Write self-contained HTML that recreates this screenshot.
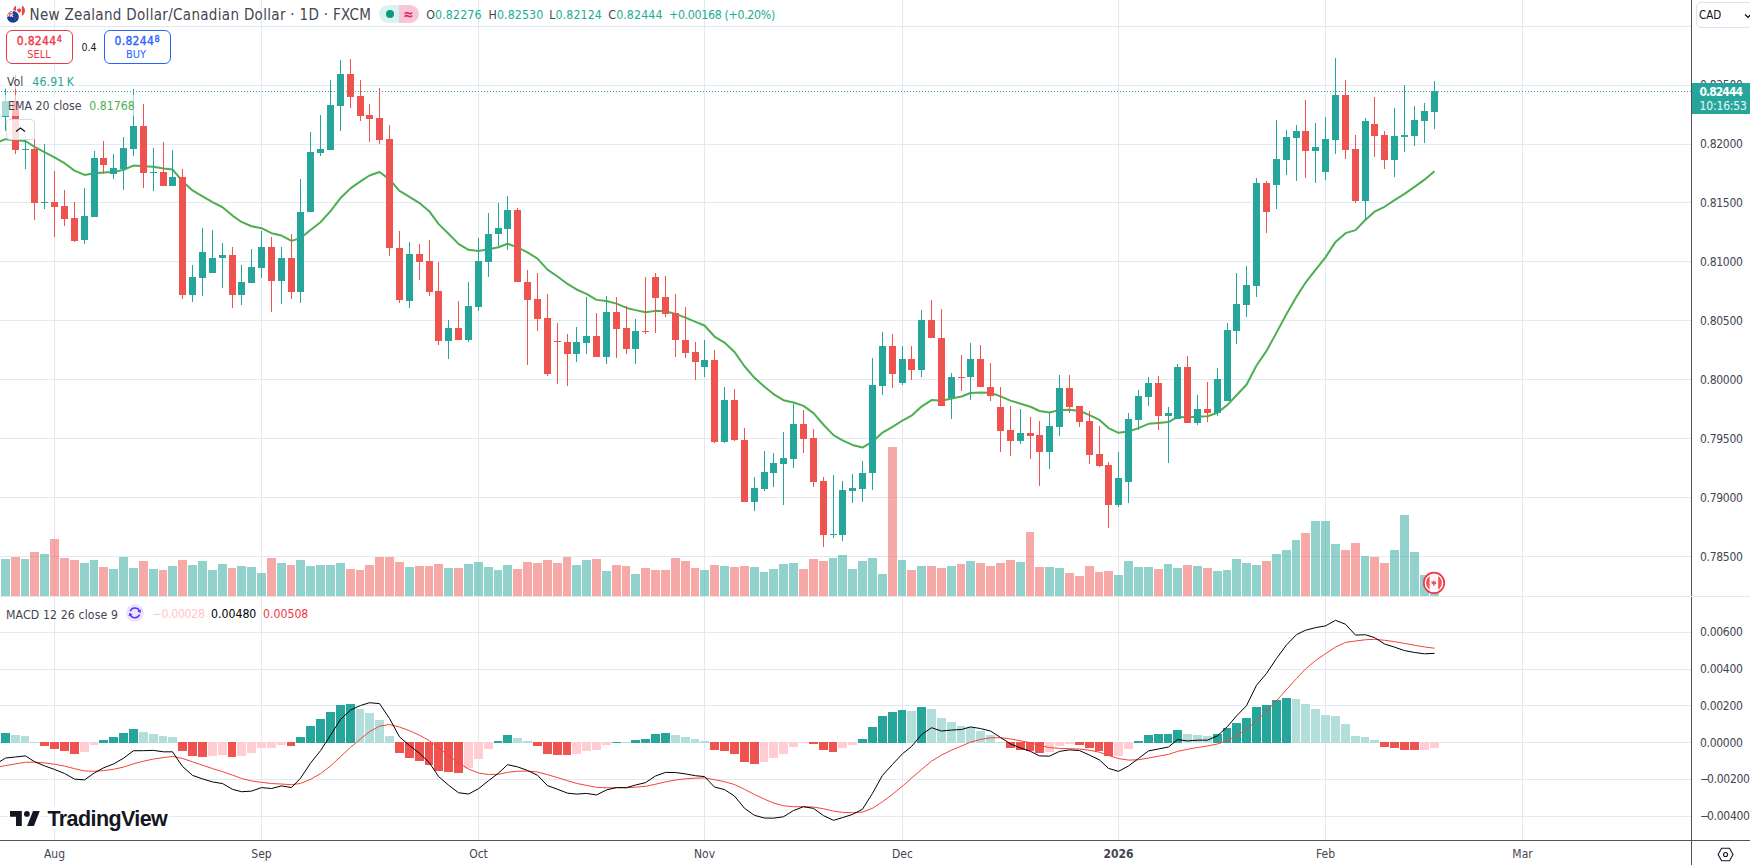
<!DOCTYPE html>
<html><head><meta charset="utf-8"><style>
html,body{margin:0;padding:0;background:#fff;}
body{width:1750px;height:865px;overflow:hidden;position:relative;font-family:'DejaVu Sans Condensed','DejaVu Sans',sans-serif;font-stretch:condensed;color:#131722;}
svg{position:absolute;left:0;top:0;}
.t{position:absolute;white-space:nowrap;line-height:1;}
.ax{position:absolute;left:1700px;font-size:12px;color:#434651;letter-spacing:-0.3px;line-height:12px;}
.tm{position:absolute;top:847.6px;font-size:12px;color:#434651;line-height:12px;}
</style></head><body>
<svg width="1750" height="865" viewBox="0 0 1750 865" shape-rendering="crispEdges">
<rect x="0" y="26" width="1691" height="1" fill="#e0eaf0"/>
<rect x="0" y="85" width="1691" height="1" fill="#e0eaf0"/>
<rect x="0" y="144" width="1691" height="1" fill="#e0eaf0"/>
<rect x="0" y="202" width="1691" height="1" fill="#e0eaf0"/>
<rect x="0" y="261" width="1691" height="1" fill="#e0eaf0"/>
<rect x="0" y="320" width="1691" height="1" fill="#e0eaf0"/>
<rect x="0" y="379" width="1691" height="1" fill="#e0eaf0"/>
<rect x="0" y="438" width="1691" height="1" fill="#e0eaf0"/>
<rect x="0" y="497" width="1691" height="1" fill="#e0eaf0"/>
<rect x="0" y="556" width="1691" height="1" fill="#e0eaf0"/>
<rect x="0" y="632" width="1691" height="1" fill="#e0eaf0"/>
<rect x="0" y="669" width="1691" height="1" fill="#e0eaf0"/>
<rect x="0" y="705" width="1691" height="1" fill="#e0eaf0"/>
<rect x="0" y="742" width="1691" height="1" fill="#e0eaf0"/>
<rect x="0" y="779" width="1691" height="1" fill="#e0eaf0"/>
<rect x="0" y="816" width="1691" height="1" fill="#e0eaf0"/>
<rect x="54" y="0" width="1" height="596" fill="#e0eaf0"/>
<rect x="54" y="597" width="1" height="243" fill="#e0eaf0"/>
<rect x="261" y="0" width="1" height="596" fill="#e0eaf0"/>
<rect x="261" y="597" width="1" height="243" fill="#e0eaf0"/>
<rect x="478" y="0" width="1" height="596" fill="#e0eaf0"/>
<rect x="478" y="597" width="1" height="243" fill="#e0eaf0"/>
<rect x="704" y="0" width="1" height="596" fill="#e0eaf0"/>
<rect x="704" y="597" width="1" height="243" fill="#e0eaf0"/>
<rect x="902" y="0" width="1" height="596" fill="#e0eaf0"/>
<rect x="902" y="597" width="1" height="243" fill="#e0eaf0"/>
<rect x="1118" y="0" width="1" height="596" fill="#e0eaf0"/>
<rect x="1118" y="597" width="1" height="243" fill="#e0eaf0"/>
<rect x="1325" y="0" width="1" height="596" fill="#e0eaf0"/>
<rect x="1325" y="597" width="1" height="243" fill="#e0eaf0"/>
<rect x="1522" y="0" width="1" height="596" fill="#e0eaf0"/>
<rect x="1522" y="597" width="1" height="243" fill="#e0eaf0"/>
<path fill="rgba(38,166,154,0.5)" d="M1 559h9V596h-9zM21 559h8V596h-8zM40 554h9V596h-9zM80 563h9V596h-9zM90 560h8V596h-8zM109 569h9V596h-9zM119 557h9V596h-9zM129 568h9V596h-9zM149 569h9V596h-9zM168 566h9V596h-9zM188 565h9V596h-9zM198 561h9V596h-9zM208 570h9V596h-9zM218 564h9V596h-9zM237 566h9V596h-9zM247 567h9V596h-9zM257 573h9V596h-9zM277 563h9V596h-9zM296 560h9V596h-9zM306 566h9V596h-9zM316 565h9V596h-9zM326 565h9V596h-9zM336 563h9V596h-9zM405 567h9V596h-9zM444 568h9V596h-9zM464 564h9V596h-9zM474 562h9V596h-9zM484 567h9V596h-9zM494 570h8V596h-8zM503 565h9V596h-9zM572 565h9V596h-9zM582 560h9V596h-9zM602 571h9V596h-9zM631 574h9V596h-9zM700 570h9V596h-9zM720 566h9V596h-9zM750 567h9V596h-9zM760 572h8V596h-8zM769 569h9V596h-9zM779 564h9V596h-9zM789 563h9V596h-9zM829 558h8V596h-8zM838 555h9V596h-9zM848 569h9V596h-9zM858 561h9V596h-9zM868 558h9V596h-9zM878 574h9V596h-9zM898 560h8V596h-8zM917 566h9V596h-9zM947 566h9V596h-9zM966 561h9V596h-9zM1016 562h9V596h-9zM1045 567h9V596h-9zM1055 568h9V596h-9zM1114 575h9V596h-9zM1124 561h9V596h-9zM1134 567h9V596h-9zM1144 567h9V596h-9zM1164 564h8V596h-8zM1173 568h9V596h-9zM1193 566h9V596h-9zM1213 571h9V596h-9zM1223 570h8V596h-8zM1232 559h9V596h-9zM1242 563h9V596h-9zM1252 565h9V596h-9zM1272 554h9V596h-9zM1282 550h9V596h-9zM1292 540h8V596h-8zM1311 521h9V596h-9zM1321 521h9V596h-9zM1331 544h9V596h-9zM1361 556h8V596h-8zM1390 550h9V596h-9zM1400 515h9V596h-9zM1410 552h9V596h-9zM1420 575h9V596h-9zM1430 587h9V596h-9z"/>
<path fill="rgba(239,83,80,0.5)" d="M11 557h9V596h-9zM30 552h9V596h-9zM50 539h9V596h-9zM60 558h9V596h-9zM70 560h9V596h-9zM99 567h9V596h-9zM139 561h9V596h-9zM159 570h8V596h-8zM178 560h9V596h-9zM228 568h8V596h-8zM267 558h9V596h-9zM287 565h8V596h-8zM346 569h9V596h-9zM356 570h8V596h-8zM365 565h9V596h-9zM375 557h9V596h-9zM385 557h9V596h-9zM395 562h9V596h-9zM415 566h9V596h-9zM425 566h8V596h-8zM434 564h9V596h-9zM454 568h9V596h-9zM513 569h9V596h-9zM523 562h9V596h-9zM533 563h9V596h-9zM543 560h9V596h-9zM553 563h9V596h-9zM563 557h8V596h-8zM592 559h9V596h-9zM612 565h9V596h-9zM622 566h8V596h-8zM641 568h9V596h-9zM651 570h9V596h-9zM661 570h9V596h-9zM671 558h9V596h-9zM681 561h9V596h-9zM691 568h8V596h-8zM710 565h9V596h-9zM730 567h9V596h-9zM740 566h9V596h-9zM799 569h9V596h-9zM809 559h9V596h-9zM819 561h9V596h-9zM888 447h9V596h-9zM907 570h9V596h-9zM927 566h9V596h-9zM937 568h9V596h-9zM957 564h8V596h-8zM976 563h9V596h-9zM986 566h9V596h-9zM996 563h9V596h-9zM1006 560h9V596h-9zM1026 532h8V596h-8zM1035 567h9V596h-9zM1065 573h9V596h-9zM1075 576h9V596h-9zM1085 566h9V596h-9zM1095 572h8V596h-8zM1104 571h9V596h-9zM1154 569h9V596h-9zM1183 565h9V596h-9zM1203 568h9V596h-9zM1262 561h9V596h-9zM1301 533h9V596h-9zM1341 550h9V596h-9zM1351 543h9V596h-9zM1370 557h9V596h-9zM1380 563h9V596h-9z"/>
<polyline points="-4.4,143.25 5.5,139.19 15.5,140.18 25.5,141.02 34.5,146.90 44.5,152.15 54.5,157.35 64.5,163.18 74.5,170.61 84.5,174.93 94.5,173.34 103.5,172.53 113.5,172.10 123.5,169.79 133.5,165.61 143.5,166.28 153.5,166.77 163.5,168.58 172.5,169.40 182.5,181.36 192.5,190.47 202.5,196.33 212.5,202.20 222.5,207.24 232.5,215.60 241.5,221.95 251.5,226.24 261.5,228.23 271.5,233.22 281.5,235.58 291.5,240.90 300.5,238.10 310.5,229.93 320.5,222.24 330.5,211.08 340.5,198.03 350.5,188.37 360.5,181.44 369.5,175.46 379.5,172.04 389.5,179.32 399.5,190.86 409.5,196.90 419.5,203.07 429.5,211.54 438.5,223.87 448.5,233.80 458.5,243.88 468.5,249.82 478.5,250.91 488.5,249.30 498.5,247.26 507.5,243.72 517.5,247.41 527.5,252.37 537.5,258.68 547.5,269.63 557.5,276.50 567.5,283.93 576.5,289.47 586.5,293.89 596.5,299.87 606.5,301.03 616.5,303.65 626.5,307.93 635.5,310.14 645.5,312.26 655.5,310.87 665.5,311.14 675.5,313.93 685.5,317.61 695.5,321.82 704.5,325.47 714.5,336.54 724.5,342.58 734.5,351.90 744.5,366.24 754.5,377.85 764.5,386.81 773.5,394.09 783.5,400.17 793.5,402.45 803.5,405.90 813.5,413.12 823.5,424.73 833.5,435.12 842.5,440.36 852.5,444.92 862.5,447.59 872.5,441.66 882.5,432.57 892.5,426.95 902.5,420.51 911.5,415.65 921.5,406.56 931.5,400.08 941.5,400.69 951.5,398.47 961.5,396.51 970.5,392.97 980.5,392.44 990.5,392.73 1000.5,396.36 1010.5,400.58 1020.5,403.69 1030.5,406.74 1039.5,411.01 1049.5,412.43 1059.5,410.11 1069.5,409.78 1079.5,410.95 1089.5,415.13 1099.5,419.97 1108.5,428.07 1118.5,432.82 1128.5,431.51 1138.5,428.13 1148.5,423.84 1158.5,423.08 1168.5,422.12 1177.5,416.86 1187.5,417.42 1197.5,416.62 1207.5,416.27 1217.5,412.73 1227.5,404.85 1236.5,395.24 1246.5,384.74 1256.5,365.53 1266.5,350.89 1276.5,332.64 1286.5,314.03 1296.5,296.63 1305.5,282.73 1315.5,269.81 1325.5,257.36 1335.5,241.90 1345.5,233.15 1355.5,230.11 1365.5,219.72 1374.5,211.71 1384.5,206.78 1394.5,200.06 1404.5,193.87 1414.5,186.86 1424.5,179.65 1434.5,171.21" fill="none" stroke="#4caf50" stroke-width="2" stroke-linejoin="round" shape-rendering="geometricPrecision"/>
<path fill="#26a69a" d="M5 88h1V131h-1zM2 101h7V117h-7zM25 136h1V169h-1zM22 149h7V150h-7zM44 144h1V209h-1zM41 202h7V203h-7zM84 188h1V244h-1zM81 216h7V240h-7zM94 151h1V217h-1zM91 158h7V217h-7zM113 154h1V179h-1zM110 168h7V174h-7zM123 137h1V190h-1zM120 148h7V169h-7zM133 89h1V156h-1zM130 126h7V149h-7zM153 148h1V191h-1zM150 172h7V173h-7zM172 150h1V186h-1zM169 177h7V186h-7zM192 265h1V302h-1zM189 277h7V295h-7zM202 228h1V296h-1zM199 252h7V278h-7zM212 230h1V273h-1zM209 258h7V273h-7zM222 243h1V288h-1zM219 255h7V258h-7zM241 265h1V305h-1zM238 282h7V295h-7zM251 249h1V283h-1zM248 267h7V283h-7zM261 231h1V278h-1zM258 247h7V268h-7zM281 247h1V304h-1zM278 258h7V281h-7zM300 179h1V303h-1zM297 212h7V292h-7zM310 132h1V212h-1zM307 152h7V212h-7zM320 115h1V156h-1zM317 149h7V153h-7zM330 80h1V150h-1zM327 105h7V150h-7zM340 60h1V131h-1zM337 74h7V106h-7zM409 242h1V308h-1zM406 254h7V301h-7zM448 320h1V359h-1zM445 328h7V341h-7zM468 282h1V342h-1zM465 306h7V340h-7zM478 238h1V311h-1zM475 261h7V307h-7zM488 213h1V277h-1zM485 234h7V262h-7zM498 203h1V246h-1zM495 228h7V234h-7zM507 196h1V250h-1zM504 210h7V229h-7zM576 327h1V362h-1zM573 342h7V354h-7zM586 297h1V354h-1zM583 336h7V343h-7zM606 296h1V364h-1zM603 312h7V357h-7zM635 319h1V364h-1zM632 331h7V349h-7zM704 340h1V377h-1zM701 360h7V367h-7zM724 387h1V443h-1zM721 400h7V442h-7zM754 477h1V511h-1zM751 488h7V502h-7zM764 451h1V491h-1zM761 472h7V489h-7zM773 453h1V487h-1zM770 463h7V473h-7zM783 432h1V505h-1zM780 458h7V464h-7zM793 404h1V468h-1zM790 424h7V459h-7zM833 475h1V538h-1zM830 534h7V535h-7zM842 481h1V541h-1zM839 490h7V535h-7zM852 474h1V503h-1zM849 488h7V491h-7zM862 461h1V502h-1zM859 473h7V489h-7zM872 358h1V490h-1zM869 385h7V473h-7zM882 332h1V395h-1zM879 346h7V386h-7zM902 346h1V385h-1zM899 359h7V383h-7zM921 310h1V377h-1zM918 320h7V370h-7zM951 373h1V419h-1zM948 377h7V398h-7zM970 343h1V400h-1zM967 359h7V377h-7zM1020 409h1V444h-1zM1017 433h7V441h-7zM1049 412h1V469h-1zM1046 426h7V452h-7zM1059 375h1V436h-1zM1056 388h7V427h-7zM1118 452h1V507h-1zM1115 478h7V505h-7zM1128 413h1V503h-1zM1125 419h7V482h-7zM1138 390h1V430h-1zM1135 396h7V420h-7zM1148 377h1V406h-1zM1145 383h7V397h-7zM1168 407h1V463h-1zM1165 413h7V416h-7zM1177 364h1V419h-1zM1174 367h7V419h-7zM1197 395h1V425h-1zM1194 409h7V423h-7zM1217 368h1V416h-1zM1214 379h7V413h-7zM1227 323h1V401h-1zM1224 330h7V401h-7zM1236 273h1V344h-1zM1233 304h7V331h-7zM1246 266h1V317h-1zM1243 285h7V305h-7zM1256 178h1V297h-1zM1253 183h7V286h-7zM1276 120h1V209h-1zM1273 159h7V185h-7zM1286 130h1V175h-1zM1283 137h7V160h-7zM1296 125h1V181h-1zM1293 131h7V138h-7zM1315 123h1V183h-1zM1312 147h7V151h-7zM1325 117h1V180h-1zM1322 139h7V172h-7zM1335 58h1V154h-1zM1332 95h7V140h-7zM1365 118h1V220h-1zM1362 121h7V201h-7zM1394 108h1V177h-1zM1391 136h7V160h-7zM1404 85h1V152h-1zM1401 135h7V137h-7zM1414 106h1V146h-1zM1411 120h7V136h-7zM1424 103h1V143h-1zM1421 111h7V121h-7zM1434 81h1V129h-1zM1431 91h7V112h-7z"/>
<path fill="#ef5350" d="M15 75h1V154h-1zM12 101h7V150h-7zM34 139h1V220h-1zM31 149h7V203h-7zM54 171h1V237h-1zM51 202h7V207h-7zM64 190h1V226h-1zM61 206h7V219h-7zM74 202h1V242h-1zM71 218h7V241h-7zM103 141h1V174h-1zM100 158h7V165h-7zM143 104h1V188h-1zM140 126h7V173h-7zM163 142h1V186h-1zM160 172h7V186h-7zM182 169h1V299h-1zM179 177h7V295h-7zM232 247h1V308h-1zM229 255h7V295h-7zM271 237h1V312h-1zM268 247h7V281h-7zM291 234h1V299h-1zM288 258h7V292h-7zM350 59h1V108h-1zM347 74h7V97h-7zM360 80h1V121h-1zM357 96h7V116h-7zM369 104h1V142h-1zM366 115h7V119h-7zM379 88h1V144h-1zM376 118h7V140h-7zM389 125h1V256h-1zM386 139h7V248h-7zM399 231h1V303h-1zM396 248h7V300h-7zM419 244h1V280h-1zM416 254h7V262h-7zM429 240h1V296h-1zM426 261h7V292h-7zM438 262h1V345h-1zM435 291h7V341h-7zM458 301h1V340h-1zM455 328h7V340h-7zM517 208h1V282h-1zM514 210h7V282h-7zM527 270h1V365h-1zM524 282h7V300h-7zM537 273h1V331h-1zM534 299h7V319h-7zM547 294h1V376h-1zM544 318h7V374h-7zM557 323h1V384h-1zM554 341h7V342h-7zM567 334h1V386h-1zM564 342h7V354h-7zM596 313h1V357h-1zM593 336h7V357h-7zM616 297h1V358h-1zM613 312h7V329h-7zM626 306h1V354h-1zM623 328h7V349h-7zM645 277h1V334h-1zM642 331h7V332h-7zM655 273h1V333h-1zM652 277h7V298h-7zM665 276h1V317h-1zM662 297h7V314h-7zM675 294h1V357h-1zM672 313h7V340h-7zM685 307h1V358h-1zM682 340h7V353h-7zM695 342h1V380h-1zM692 352h7V362h-7zM714 350h1V443h-1zM711 360h7V442h-7zM734 389h1V441h-1zM731 400h7V440h-7zM744 428h1V502h-1zM741 440h7V502h-7zM803 410h1V453h-1zM800 424h7V439h-7zM813 429h1V487h-1zM810 438h7V482h-7zM823 477h1V547h-1zM820 481h7V535h-7zM892 334h1V388h-1zM889 346h7V374h-7zM911 346h1V380h-1zM908 359h7V370h-7zM931 300h1V338h-1zM928 320h7V338h-7zM941 309h1V406h-1zM938 338h7V406h-7zM961 355h1V391h-1zM958 377h7V378h-7zM980 345h1V387h-1zM977 359h7V387h-7zM990 363h1V401h-1zM987 387h7V396h-7zM1000 387h1V452h-1zM997 407h7V431h-7zM1010 406h1V456h-1zM1007 430h7V441h-7zM1030 417h1V459h-1zM1027 433h7V436h-7zM1039 421h1V486h-1zM1036 435h7V452h-7zM1069 375h1V413h-1zM1066 388h7V407h-7zM1079 406h1V427h-1zM1076 406h7V422h-7zM1089 411h1V464h-1zM1086 421h7V455h-7zM1099 426h1V467h-1zM1096 454h7V466h-7zM1108 462h1V528h-1zM1105 465h7V505h-7zM1158 376h1V430h-1zM1155 383h7V416h-7zM1187 356h1V423h-1zM1184 367h7V423h-7zM1207 382h1V422h-1zM1204 409h7V413h-7zM1266 181h1V233h-1zM1263 183h7V212h-7zM1305 100h1V178h-1zM1302 131h7V151h-7zM1345 80h1V159h-1zM1342 95h7V150h-7zM1355 135h1V203h-1zM1352 149h7V201h-7zM1374 97h1V157h-1zM1371 124h7V136h-7zM1384 131h1V169h-1zM1381 135h7V160h-7z"/>
<line x1="1" y1="91.5" x2="1691" y2="91.5" stroke="#26a69a" stroke-width="1" stroke-dasharray="1 2"/>
<rect x="0" y="596" width="1750" height="1" fill="#e8e8ea"/>
<path fill="#26a69a" d="M1 733h9V743h-9zM99 740h9V743h-9zM109 737h9V743h-9zM119 733h9V743h-9zM129 729h9V743h-9zM296 737h9V743h-9zM306 726h9V743h-9zM316 719h9V743h-9zM326 712h9V743h-9zM336 705h9V743h-9zM346 704h9V743h-9zM494 741h8V743h-8zM503 735h9V743h-9zM612 742h9V743h-9zM631 740h9V743h-9zM641 739h9V743h-9zM651 734h9V743h-9zM661 733h9V743h-9zM858 739h9V743h-9zM868 727h9V743h-9zM878 716h9V743h-9zM888 712h9V743h-9zM898 710h8V743h-8zM917 707h9V743h-9zM1134 741h9V743h-9zM1144 735h9V743h-9zM1154 734h9V743h-9zM1164 734h8V743h-8zM1173 730h9V743h-9zM1213 734h9V743h-9zM1223 728h8V743h-8zM1232 723h9V743h-9zM1242 718h9V743h-9zM1252 707h9V743h-9zM1262 705h9V743h-9zM1272 700h9V743h-9zM1282 698h9V743h-9z"/>
<path fill="#b2dfdb" d="M11 735h9V743h-9zM21 736h8V743h-8zM30 742h9V743h-9zM139 732h9V743h-9zM149 734h9V743h-9zM159 736h8V743h-8zM168 737h9V743h-9zM356 709h8V743h-8zM365 713h9V743h-9zM375 720h9V743h-9zM385 736h9V743h-9zM513 738h9V743h-9zM523 741h9V743h-9zM622 742h8V743h-8zM671 735h9V743h-9zM681 737h9V743h-9zM691 739h8V743h-8zM700 741h9V743h-9zM907 711h9V743h-9zM927 709h9V743h-9zM937 718h9V743h-9zM947 722h9V743h-9zM957 726h8V743h-8zM966 727h9V743h-9zM976 731h9V743h-9zM986 735h9V743h-9zM996 742h9V743h-9zM1183 734h9V743h-9zM1193 735h9V743h-9zM1203 736h9V743h-9zM1292 699h8V743h-8zM1301 704h9V743h-9zM1311 709h9V743h-9zM1321 715h9V743h-9zM1331 716h9V743h-9zM1341 724h9V743h-9zM1351 736h9V743h-9zM1361 737h8V743h-8zM1370 740h9V743h-9z"/>
<path fill="#ef5350" d="M40 742h9V746h-9zM50 742h9V749h-9zM60 742h9V751h-9zM70 742h9V754h-9zM178 742h9V751h-9zM188 742h9V756h-9zM198 742h9V757h-9zM228 742h8V757h-8zM287 742h8V746h-8zM395 742h9V753h-9zM405 742h9V758h-9zM415 742h9V761h-9zM425 742h8V765h-8zM434 742h9V771h-9zM444 742h9V772h-9zM454 742h9V773h-9zM533 742h9V746h-9zM543 742h9V754h-9zM553 742h9V755h-9zM563 742h8V755h-8zM710 742h9V750h-9zM720 742h9V751h-9zM730 742h9V754h-9zM740 742h9V762h-9zM750 742h9V764h-9zM809 742h9V744h-9zM819 742h9V750h-9zM829 742h8V752h-8zM1006 742h9V748h-9zM1016 742h9V750h-9zM1026 742h8V751h-8zM1035 742h9V753h-9zM1075 742h9V745h-9zM1085 742h9V748h-9zM1095 742h8V751h-8zM1104 742h9V756h-9zM1380 742h9V747h-9zM1390 742h9V748h-9zM1400 742h9V750h-9zM1410 742h9V750h-9z"/>
<path fill="#ffcdd2" d="M80 742h9V752h-9zM90 742h8V745h-8zM208 742h9V756h-9zM218 742h9V755h-9zM237 742h9V756h-9zM247 742h9V753h-9zM257 742h9V748h-9zM267 742h9V748h-9zM277 742h9V745h-9zM464 742h9V768h-9zM474 742h9V759h-9zM484 742h9V749h-9zM572 742h9V754h-9zM582 742h9V751h-9zM592 742h9V750h-9zM602 742h9V745h-9zM760 742h8V762h-8zM769 742h9V758h-9zM779 742h9V754h-9zM789 742h9V747h-9zM799 742h9V743h-9zM838 742h9V748h-9zM848 742h9V745h-9zM1045 742h9V752h-9zM1055 742h9V746h-9zM1065 742h9V744h-9zM1114 742h9V756h-9zM1124 742h9V749h-9zM1420 742h9V750h-9zM1430 742h9V748h-9z"/>
<polyline points="-4.4,767.50 5.5,765.60 15.5,763.88 25.5,762.28 34.5,762.16 44.5,762.90 54.5,764.21 64.5,766.06 74.5,768.66 84.5,770.91 94.5,771.30 103.5,770.61 113.5,769.29 123.5,767.08 133.5,763.81 143.5,761.19 153.5,759.02 163.5,757.59 172.5,756.43 182.5,758.43 192.5,761.82 202.5,765.23 212.5,768.58 222.5,771.57 232.5,775.12 241.5,778.44 251.5,780.98 261.5,782.31 271.5,783.55 281.5,784.02 291.5,784.72 300.5,783.43 310.5,779.38 320.5,773.64 330.5,765.97 340.5,756.66 350.5,747.34 360.5,738.98 369.5,731.72 379.5,726.10 389.5,724.57 399.5,727.03 409.5,730.73 419.5,735.22 429.5,740.77 438.5,747.90 448.5,755.33 458.5,762.81 468.5,769.05 478.5,772.99 488.5,774.53 498.5,774.25 507.5,772.34 517.5,771.24 527.5,771.08 537.5,771.93 547.5,774.67 557.5,777.59 567.5,780.71 576.5,783.38 586.5,785.39 596.5,787.30 606.5,787.83 616.5,787.77 626.5,787.75 635.5,787.21 645.5,786.30 655.5,784.23 665.5,781.86 675.5,780.00 685.5,778.78 695.5,778.17 704.5,777.85 714.5,779.69 724.5,781.67 734.5,784.55 744.5,789.30 754.5,794.52 764.5,799.22 773.5,803.01 783.5,805.76 793.5,806.71 803.5,806.71 813.5,807.04 823.5,808.76 833.5,811.07 842.5,812.39 852.5,812.79 862.5,812.07 872.5,808.31 882.5,801.72 892.5,794.26 902.5,786.15 911.5,778.22 921.5,769.51 931.5,761.15 941.5,755.13 951.5,750.11 961.5,745.99 970.5,742.17 980.5,739.45 990.5,737.76 1000.5,737.71 1010.5,738.95 1020.5,740.75 1030.5,742.87 1039.5,745.48 1049.5,747.61 1059.5,748.36 1069.5,748.67 1079.5,749.05 1089.5,750.26 1099.5,752.19 1108.5,755.43 1118.5,758.62 1128.5,760.08 1138.5,759.77 1148.5,758.00 1158.5,756.19 1168.5,754.36 1177.5,751.41 1187.5,749.31 1197.5,747.48 1207.5,746.01 1217.5,743.98 1227.5,740.48 1236.5,735.57 1246.5,729.59 1256.5,720.73 1266.5,711.28 1276.5,700.72 1286.5,689.55 1296.5,678.57 1305.5,668.91 1315.5,660.65 1325.5,653.70 1335.5,647.02 1345.5,642.47 1355.5,640.99 1365.5,639.74 1374.5,639.30 1384.5,640.24 1394.5,641.62 1404.5,643.41 1414.5,645.22 1424.5,646.94 1434.5,648.22" fill="none" stroke="#f44336" stroke-width="1" shape-rendering="geometricPrecision"/>
<polyline points="-4.4,764.20 5.5,758.02 15.5,756.97 25.5,755.90 34.5,761.66 44.5,765.85 54.5,769.45 64.5,773.46 74.5,779.09 84.5,779.91 94.5,772.87 103.5,767.84 113.5,764.00 123.5,758.23 133.5,750.76 143.5,750.68 153.5,750.38 163.5,751.83 172.5,751.80 182.5,766.45 192.5,775.39 202.5,778.88 212.5,781.95 222.5,783.54 232.5,789.33 241.5,791.73 251.5,791.13 261.5,787.60 271.5,788.53 281.5,785.89 291.5,787.53 300.5,778.26 310.5,763.16 320.5,750.70 330.5,735.29 340.5,719.42 350.5,710.08 360.5,705.50 369.5,702.72 379.5,703.62 389.5,718.44 399.5,736.85 409.5,745.52 419.5,753.22 429.5,762.93 438.5,776.46 448.5,785.06 458.5,792.74 468.5,794.00 478.5,788.74 488.5,780.68 498.5,773.16 507.5,764.68 517.5,766.87 527.5,770.44 537.5,775.31 547.5,785.65 557.5,789.27 567.5,793.17 576.5,794.08 586.5,793.43 596.5,794.95 606.5,789.93 616.5,787.54 626.5,787.66 635.5,785.04 645.5,782.66 655.5,775.98 665.5,772.38 675.5,772.56 685.5,773.89 695.5,775.72 704.5,776.57 714.5,787.08 724.5,789.57 734.5,796.06 744.5,808.32 754.5,815.38 764.5,818.04 773.5,818.16 783.5,816.74 793.5,810.52 803.5,806.71 813.5,808.38 823.5,815.63 833.5,820.32 842.5,817.64 852.5,814.42 862.5,809.18 872.5,793.30 882.5,775.36 892.5,764.38 902.5,753.72 911.5,746.53 921.5,734.65 931.5,727.73 941.5,731.01 951.5,730.06 961.5,729.51 970.5,726.90 980.5,728.55 990.5,731.02 1000.5,737.51 1010.5,743.90 1020.5,747.94 1030.5,751.37 1039.5,755.92 1049.5,756.13 1059.5,751.37 1069.5,749.89 1079.5,750.56 1089.5,755.12 1099.5,759.92 1108.5,768.40 1118.5,771.35 1128.5,765.94 1138.5,758.53 1148.5,750.92 1158.5,748.97 1168.5,747.01 1177.5,739.63 1187.5,740.90 1197.5,740.18 1207.5,740.13 1217.5,735.87 1227.5,726.44 1236.5,715.96 1246.5,705.68 1256.5,685.25 1266.5,673.50 1276.5,658.47 1286.5,644.90 1296.5,634.63 1305.5,630.25 1315.5,627.63 1325.5,625.88 1335.5,620.32 1345.5,624.25 1355.5,635.09 1365.5,634.75 1374.5,637.55 1384.5,643.97 1394.5,647.15 1404.5,650.59 1414.5,652.47 1424.5,653.81 1434.5,653.35" fill="none" stroke="#000" stroke-width="1" shape-rendering="geometricPrecision"/>
<rect x="1691" y="0" width="1" height="596" fill="#50535e"/>
<rect x="1691" y="597" width="1" height="268" fill="#50535e"/>
<rect x="0" y="840" width="1750" height="1" fill="#50535e"/>
<rect x="1692" y="83" width="58" height="31" fill="#26a69a"/>
<g transform="translate(1434 582.9)" shape-rendering="geometricPrecision"><defs><clipPath id="cafl"><circle r="7.9"/></clipPath></defs><circle r="10.2" fill="#fff" stroke="#f23645" stroke-width="1.7"/><g clip-path="url(#cafl)"><circle r="8" fill="#f7f9fc"/><rect x="-9" y="-9" width="4.6" height="18" fill="#ef5350"/><rect x="4.2" y="-9" width="4.8" height="18" fill="#ef5350"/></g><path d="M-0.3-2.6L0.8-1.2L2.3-1.7L1.8 0.2L2.6 0.6L0.3 1.9V3.2H-0.7V1.9L-3-0.2L-2.2-0.4L-2.7-1.9L-1.3-1.2z" fill="#ef5350"/></g>
</svg>
<div class="ax" style="top:79px;height:4px;overflow:hidden">0.82500</div><div class="ax" style="top:138px">0.82000</div><div class="ax" style="top:197px">0.81500</div><div class="ax" style="top:256px">0.81000</div><div class="ax" style="top:315px">0.80500</div><div class="ax" style="top:374px">0.80000</div><div class="ax" style="top:433px">0.79500</div><div class="ax" style="top:492px">0.79000</div><div class="ax" style="top:551px">0.78500</div><div class="ax" style="top:626px">0.00600</div><div class="ax" style="top:663px">0.00400</div><div class="ax" style="top:700px">0.00200</div><div class="ax" style="top:737px">0.00000</div><div class="ax" style="top:773px"><span style="margin-right:-2px;letter-spacing:0">−</span>0.00200</div><div class="ax" style="top:810px"><span style="margin-right:-2px;letter-spacing:0">−</span>0.00400</div><div class="t" style="left:1699.5px;top:86px;font-size:12px;font-weight:bold;color:#fff;letter-spacing:-0.95px">0.82444</div><div class="t" style="left:1699.5px;top:99.5px;font-size:12px;color:rgba(255,255,255,.85);-webkit-text-stroke:0.2px rgba(255,255,255,.6);letter-spacing:-0.15px">10:16:53</div><div class="tm" style="left:24.5px;width:60px;text-align:center;">Aug</div><div class="tm" style="left:231.5px;width:60px;text-align:center;">Sep</div><div class="tm" style="left:448.5px;width:60px;text-align:center;">Oct</div><div class="tm" style="left:674.5px;width:60px;text-align:center;">Nov</div><div class="tm" style="left:872.5px;width:60px;text-align:center;">Dec</div><div class="tm" style="left:1088.5px;width:60px;text-align:center;font-weight:bold;">2026</div><div class="tm" style="left:1295.5px;width:60px;text-align:center;">Feb</div><div class="tm" style="left:1492.5px;width:60px;text-align:center;">Mar</div><div style="position:absolute;left:3px;top:72px;width:76px;height:17px;background:rgba(255,255,255,.6)"></div><div style="position:absolute;left:1px;top:95px;width:136px;height:21px;background:rgba(255,255,255,.6)"></div><div style="position:absolute;left:0;top:0;width:1691px;height:26px;"></div><svg style="position:absolute;left:0;top:0" width="30" height="26" viewBox="0 0 30 26" shape-rendering="geometricPrecision"><defs><clipPath id="cac"><circle cx="19.05" cy="10.75" r="5.95"/></clipPath><clipPath id="nzc"><circle cx="12.95" cy="16.85" r="5.95"/></clipPath></defs><g clip-path="url(#cac)"><rect x="13" y="4.5" width="13" height="13" fill="#f7f9fc"/><rect x="12" y="4" width="4" height="14" fill="#ef4444"/><rect x="21.9" y="4" width="4" height="14" fill="#ef4444"/><path d="M19.2 7.9l0.9 1.3 1.2-0.4-0.4 1.9 0.6 0.2-2.1 1.5 0.2 0.9h-0.8l0.2-0.9-2.1-1.5 0.6-0.2-0.4-1.9 1.2 0.4z" fill="#ef4444"/></g><circle cx="12.95" cy="16.85" r="6.7" fill="#fff"/><g clip-path="url(#nzc)"><rect x="6" y="10" width="14" height="14" fill="#0e3f9e"/><rect x="6" y="10.5" width="7.2" height="6.6" fill="#0e3f9e"/><path d="M6.5 11l6.4 5.8M12.9 11l-6.4 5.8" stroke="#fff" stroke-width="1.4"/><path d="M9.7 10.5v6.6M6 13.8h7.2" stroke="#fff" stroke-width="2"/><path d="M9.7 10.5v6.6M6 13.8h7.2" stroke="#ef4444" stroke-width="1.1"/><circle cx="15.6" cy="14.8" r="0.6" fill="#e53935"/><circle cx="14.5" cy="17.3" r="0.6" fill="#e53935"/><circle cx="17.4" cy="17.4" r="0.6" fill="#e53935"/><circle cx="15.5" cy="19.6" r="0.7" fill="#e53935"/></g></svg><div class="t" style="left:29.5px;top:8px;font-size:15px;letter-spacing:0.32px;color:#434651">New Zealand Dollar/Canadian Dollar · 1D · FXCM</div><div style="position:absolute;left:379px;top:5px;width:40px;height:18px;border-radius:9px;overflow:hidden"><div style="position:absolute;left:0;top:0;width:20px;height:18px;background:#dcf2ee"></div><div style="position:absolute;left:20px;top:0;width:20px;height:18px;background:#f8c7d7"></div><div style="position:absolute;left:7px;top:5px;width:8px;height:8px;border-radius:50%;background:#089981"></div><div style="position:absolute;left:20px;top:0;width:19px;height:18px;text-align:center;font-size:14px;line-height:18px;color:#e91e63;font-weight:bold">≈</div></div><div class="t" style="left:426.3px;top:8.5px;font-size:12.3px;letter-spacing:0.1px;color:#434651">O<span style="color:#22ab94">0.82276</span></div><div class="t" style="left:488.5px;top:8.5px;font-size:12.3px;letter-spacing:0.1px;color:#434651">H<span style="color:#22ab94">0.82530</span></div><div class="t" style="left:549.3px;top:8.5px;font-size:12.3px;letter-spacing:0.1px;color:#434651">L<span style="color:#22ab94">0.82124</span></div><div class="t" style="left:608.3px;top:8.5px;font-size:12.3px;letter-spacing:0.1px;color:#434651">C<span style="color:#22ab94">0.82444</span></div><div class="t" style="left:669.0px;top:8.5px;font-size:12.3px;letter-spacing:-0.33px;color:#434651"><span style="color:#22ab94">+0.00168 (+0.20%)</span></div><div style="position:absolute;left:6px;top:30px;width:65px;height:32px;border:1px solid #f23645;border-radius:6px;background:#fff"></div><div class="t" style="left:16.8px;top:34.5px;font-size:12px;-webkit-text-stroke:0.35px #f23645;color:#f23645;letter-spacing:0.3px">0.8244<span style="font-size:9px;vertical-align:3px;margin-left:0.3px">4</span></div><div class="t" style="left:27.3px;top:49px;font-size:11px;color:#f23645">SELL</div><div class="t" style="left:81.5px;top:42.3px;font-size:10.5px;color:#131722">0.4</div><div style="position:absolute;left:104px;top:30px;width:65px;height:32px;border:1px solid #2962ff;border-radius:6px;background:#fff"></div><div class="t" style="left:114.5px;top:34.5px;font-size:12px;-webkit-text-stroke:0.35px #2962ff;color:#2962ff;letter-spacing:0.3px">0.8244<span style="font-size:9px;vertical-align:3px;margin-left:0.3px">8</span></div><div class="t" style="left:126px;top:49px;font-size:11px;color:#2962ff">BUY</div><div class="t" style="left:7px;top:75.5px;font-size:12.2px;color:#434651">Vol <span style="color:#26a69a;margin-left:5.5px;letter-spacing:0.15px">46.91 K</span></div><div class="t" style="left:8px;top:100px;font-size:12.2px;color:#434651;letter-spacing:0.05px">EMA 20 close <span style="color:#4caf50;margin-left:4px">0.81768</span></div><div style="position:absolute;left:5.5px;top:119px;width:27px;height:19px;border:1px solid #dadada;border-radius:4px;background:rgba(255,255,255,.82)"></div><svg style="position:absolute;left:14px;top:125px" width="14" height="8" viewBox="0 0 14 8" shape-rendering="geometricPrecision"><path d="M2 6.5L6.5 3.1L11 6.5" fill="none" stroke="#131722" stroke-width="1.3"/></svg><div class="t" style="left:6px;top:608.5px;font-size:12.2px;color:#434651;letter-spacing:0.12px">MACD 12 26 close 9</div><svg style="position:absolute;left:126px;top:604px" width="18" height="18" viewBox="-8.9 -8.9 18 18" shape-rendering="geometricPrecision"><circle cx="0" cy="0" r="8.9" fill="#ebe5ff"/><path d="M-4.7-1.7A5 5 0 0 1 4.5-2.1" fill="none" stroke="#5f2eff" stroke-width="1.5"/><path d="M6.5-3.3L5.4 0.2L2.4-1.6z" fill="#5f2eff"/><path d="M4.7 1.7A5 5 0 0 1-4.5 2.1" fill="none" stroke="#5f2eff" stroke-width="1.5"/><path d="M-6.5 3.3L-5.4-0.2L-2.4 1.6z" fill="#5f2eff"/></svg><div class="t" style="left:152.5px;top:607.5px;font-size:12.2px;letter-spacing:-0.3px;color:#ffc4cb">−0.00028</div><div class="t" style="left:211px;top:607.5px;font-size:12.2px;color:#000">0.00480</div><div class="t" style="left:263px;top:607.5px;font-size:12.2px;color:#f23645">0.00508</div><div style="position:absolute;left:1695.5px;top:2px;width:60px;height:23.5px;border:1px solid #e0e3eb;border-radius:5px;background:#fff"></div><div class="t" style="left:1699px;top:10px;font-size:11.5px;color:#131722">CAD</div><svg style="position:absolute;left:1744px;top:12.5px" width="8" height="6" viewBox="0 0 8 6" shape-rendering="geometricPrecision"><path d="M1 1.5L4 4.3L7 1.5" fill="none" stroke="#131722" stroke-width="1.3"/></svg><svg style="position:absolute;left:1717px;top:846px" width="17" height="16" viewBox="0 0 17 16" shape-rendering="geometricPrecision"><path d="M4.6 2.2h7.9l3.5 6.25-3.5 6.25H4.6L1.1 8.45z" fill="none" stroke="#131722" stroke-width="1.1"/><circle cx="8.55" cy="8.5" r="2.05" fill="none" stroke="#131722" stroke-width="1.1"/></svg><div style="position:absolute;left:8px;top:806px;width:32.5px;height:22px;background:#fff"></div><div style="position:absolute;left:49px;top:805.5px;width:120px;height:23px;background:#fff"></div><svg style="position:absolute;left:10px;top:811px" width="31" height="16" viewBox="0 0 31 16" shape-rendering="geometricPrecision"><path d="M0 0h11.8v14.9H6V5.7H0z" fill="#131722"/><circle cx="16.9" cy="2.9" r="2.9" fill="#131722"/><path d="M23 0H29.8L23.9 14.9H17.1z" fill="#131722"/></svg><div class="t" style="left:47.5px;top:809px;font-family:'Liberation Sans',sans-serif;font-weight:bold;font-size:21.5px;color:#131722;letter-spacing:-0.6px">TradingView</div>
</body></html>
